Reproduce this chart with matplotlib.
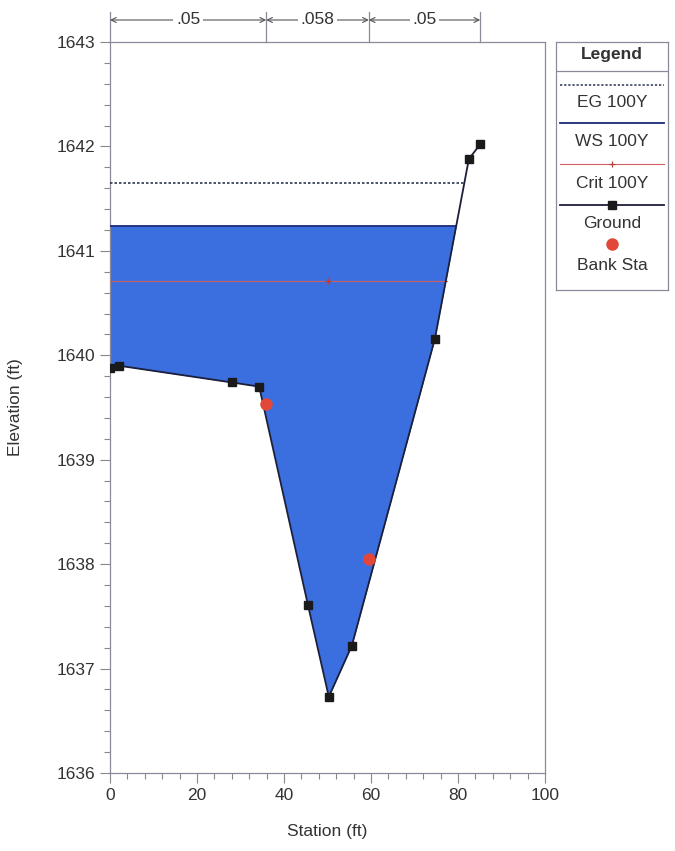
import matplotlib
matplotlib.use("Agg")
import matplotlib.pyplot as plt
import numpy as np
from matplotlib.transforms import blended_transform_factory
from matplotlib.ticker import MultipleLocator

plt.rcParams['font.family'] = ['Liberation Sans', 'DejaVu Sans']

# Data
ground_sta = [0.0, 2.1, 28.0, 34.3, 45.5, 50.3, 55.6, 74.7, 82.5, 85.1]
ground_elev = [1639.88, 1639.90, 1639.74, 1639.70, 1637.61, 1636.73, 1637.22, 1640.16, 1641.88, 1642.02]
bank_sta = [35.9, 59.5]
bank_elev = [1639.53, 1638.05]
ws_elev = 1641.24
eg_elev = 1641.65
eg_end = 81.5
crit_elev = 1640.71
crit_end = 77.5
crit_mark_sta = 50.0
n_breaks = [0.0, 35.9, 59.5, 85.1]
n_values = [".05", ".058", ".05"]
legend_labels = ["EG 100Y", "WS 100Y", "Crit 100Y", "Ground", "Bank Sta"]

BLUE = '#3b6fe0'
DARK = '#1c1f3a'
FS = 12.5

fig = plt.figure(figsize=(6.75, 8.51), dpi=100)
ax = fig.add_axes([110/675, 1-773/851, 435/675, 731/851])

gs = np.array(ground_sta); ge = np.array(ground_elev)
xs_fine = np.linspace(gs[0], gs[-1], 2000)
ge_fine = np.interp(xs_fine, gs, ge)
mask = ge_fine <= ws_elev
ax.fill_between(xs_fine, ge_fine, ws_elev, where=mask, color=BLUE, linewidth=0, zorder=1)
ws_end = xs_fine[mask][-1]
ax.plot([gs[0], ws_end], [ws_elev, ws_elev], color='#1a2a7a', lw=1.3, zorder=3)
ax.plot([gs[0], eg_end], [eg_elev, eg_elev], color='#2a3550', lw=1.2, ls=(0, (1.5, 1.2)), zorder=3)
ax.plot([gs[0], crit_end], [crit_elev, crit_elev], color='#d06060', lw=0.8, zorder=3)
ax.plot([crit_mark_sta], [crit_elev], marker='+', color='#b04040', ms=5, mew=0.9, zorder=3)
ax.plot(gs, ge, color=DARK, lw=1.3, marker='s', ms=5.5, mfc='#1a1a1a', mec='#1a1a1a', zorder=4)
ax.plot(bank_sta, bank_elev, 'o', color='#e2483a', ms=9, mec='none', zorder=5)

ax.set_xlim(0, 100)
ax.set_ylim(1636, 1643)
ax.xaxis.set_major_locator(MultipleLocator(20))
ax.xaxis.set_minor_locator(MultipleLocator(4))
ax.yaxis.set_major_locator(MultipleLocator(1))
ax.yaxis.set_minor_locator(MultipleLocator(0.2))
ax.tick_params(which='both', direction='out', colors='#888888', labelcolor='#333333', labelsize=FS)
ax.tick_params(which='major', length=7, width=0.8)
ax.tick_params(which='minor', length=4, width=0.8)
for s in ax.spines.values():
    s.set_color('#8a8a9a'); s.set_linewidth(0.9)
ax.set_xlabel("Station (ft)", fontsize=FS, color='#333333')
ax.set_ylabel("Elevation (ft)", fontsize=FS, color='#333333')
ax.xaxis.set_label_coords(0.5, -(824 - 773) / 731)
ax.yaxis.set_label_coords(-(110 - 23) / 435, 0.5)

# Manning's n annotation on top
tr = blended_transform_factory(ax.transData, ax.transAxes)
ytop = 1 + 30/731
yarr = 1 + 22/731
for xb in n_breaks:
    ax.plot([xb, xb], [1.0, ytop], transform=tr, color='#8a8a9a', lw=0.9, clip_on=False)
for i, lab in enumerate(n_values):
    x0, x1 = n_breaks[i], n_breaks[i+1]
    ax.annotate('', xy=(x0, yarr), xytext=(x1, yarr), xycoords=tr, textcoords=tr,
                arrowprops=dict(arrowstyle='<->', color='#555555', lw=0.8, shrinkA=0, shrinkB=0,
                                mutation_scale=9))
    ax.text((x0 + x1) / 2, yarr, lab, transform=tr, ha='center', va='center', fontsize=FS,
            color='#333333', bbox=dict(facecolor='white', edgecolor='none', pad=2), clip_on=False)

# Legend box
lax = fig.add_axes([556/675, 1-290/851, 112/675, 248/851])
lax.set_xlim(0, 112); lax.set_ylim(248, 0)
lax.set_xticks([]); lax.set_yticks([])
for s in lax.spines.values():
    s.set_color('#8a8a9a'); s.set_linewidth(0.9)
lax.text(56, 12, "Legend", ha='center', va='center', fontsize=FS, fontweight='bold', color='#333333')
lax.plot([0, 112], [29, 29], color='#8a8a9a', lw=0.9)
lax.plot([4, 108], [43, 43], color='#2a3550', lw=1.1, ls=(0, (1.5, 1.2)))
lax.text(56, 60, legend_labels[0], ha='center', va='center', fontsize=FS, color='#333333')
lax.plot([4, 108], [81, 81], color='#1a2a7a', lw=1.3)
lax.text(56, 99, legend_labels[1], ha='center', va='center', fontsize=FS, color='#333333')
lax.plot([4, 108], [122, 122], color='#d06060', lw=0.8)
lax.plot([56], [122], marker='+', color='#b04040', ms=5, mew=0.9)
lax.text(56, 142, legend_labels[2], ha='center', va='center', fontsize=FS, color='#333333')
lax.plot([4, 108], [163, 163], color=DARK, lw=1.3)
lax.plot([56], [163], marker='s', color='#1a1a1a', ms=5.5)
lax.text(56, 182, legend_labels[3], ha='center', va='center', fontsize=FS, color='#333333')
lax.plot([56], [202], 'o', color='#e2483a', ms=9, mec='none')
lax.text(56, 223, legend_labels[4], ha='center', va='center', fontsize=FS, color='#333333')

fig.savefig("out.png", dpi=100)
